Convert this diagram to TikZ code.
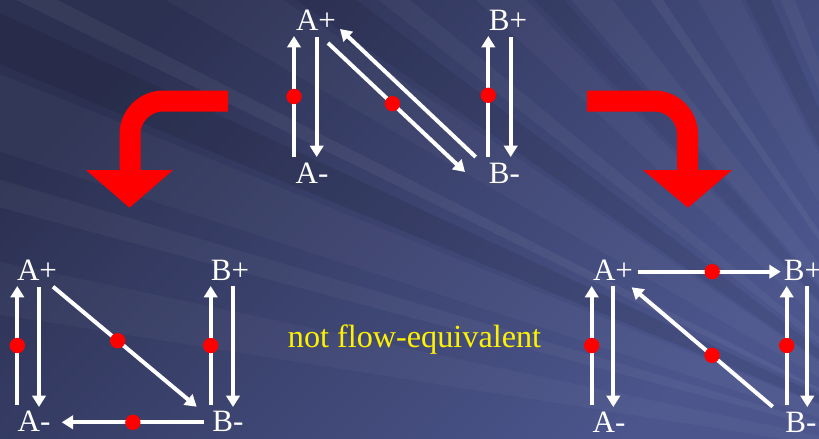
\documentclass[tikz,border=0pt]{standalone}
\usepackage{fontspec}
\setmainfont{Liberation Serif}
\usetikzlibrary{arrows.meta}

\definecolor{bgdark}{HTML}{2C3152}
\definecolor{bglight}{HTML}{4C568D}

\begin{document}
\begin{tikzpicture}[
  x=0.03cm, y=-0.03cm,
  font=\fontsize{26.5}{32}\selectfont,
  >={Triangle[length=0.34cm,width=0.4cm]},
  flow/.style={->, white, line width=0.12cm},
  dot/.style={circle, fill=red, inner sep=0pt, minimum size=0.46cm},
  vertex/.style={white, inner sep=0pt, anchor=base},
  turnarrow/.style={red, line width=0.63cm, rounded corners=1cm},
  streak/.style={white, opacity=#1},
  shadow/.style={black, opacity=#1}
]

% Backdrop with rays.
\clip (0,0) rectangle (819,438);
\shade[top color=bgdark, bottom color=bglight, shading angle=45] (0,0) rectangle (819,438);
\foreach \a/\b/\o in {9/12/0.03, 15/16.5/0.04, 18/22/0.03, 26/27/0.05,
    30/34/0.03, 38/39.5/0.04, 43/46/0.03, 49/52/0.04, 55/56/0.05,
    59/63/0.03, 67/68.5/0.04, 72/77/0.03}
  \fill[streak=\o] (980,470) -- ({980-1500*cos(\a)},{470-1500*sin(\a)})
    -- ({980-1500*cos(\b)},{470-1500*sin(\b)}) -- cycle;
\foreach \a/\b/\o in {22.5/25/0.09, 34.5/37/0.08, 46.5/48.5/0.06, 63.5/66/0.08}
  \fill[shadow=\o] (980,470) -- ({980-1500*cos(\a)},{470-1500*sin(\a)})
    -- ({980-1500*cos(\b)},{470-1500*sin(\b)}) -- cycle;

% Red bent arrows from the top diagram to the two results.
\coordinate (lbar) at (228,101);
\coordinate (lturn) at (130,101);
\coordinate (ldrop) at (130,172);
\draw[turnarrow] (lbar) -- (lturn) -- (ldrop);
\fill[red] (86,170) -- (173,170) -- (129.5,207.7) -- cycle;

\coordinate (rbar) at (587,101);
\coordinate (rturn) at (687.5,101);
\coordinate (rdrop) at (687.5,172);
\draw[turnarrow] (rbar) -- (rturn) -- (rdrop);
\fill[red] (643,170) -- (732,170) -- (688,207.7) -- cycle;

% Top diagram.
\node[vertex] (tap) at (316,30) {A+};
\node[vertex] (tbp) at (508,30) {B+};
\node[vertex] (tam) at (312,183) {A-};
\node[vertex] (tbm) at (504.5,183) {B-};

\coordinate (t1s) at (294,157);   \coordinate (t1e) at (294,36);
\coordinate (t2s) at (316.7,37);  \coordinate (t2e) at (316.7,157);
\coordinate (t3s) at (328,43);    \coordinate (t3e) at (465,172);
\coordinate (t4s) at (475.7,157); \coordinate (t4e) at (340,29);
\coordinate (t5s) at (488.3,157); \coordinate (t5e) at (488.3,36);
\coordinate (t6s) at (510.7,37);  \coordinate (t6e) at (510.7,157);

\draw[flow] (t1s) -- node[dot] (td1) {} (t1e);
\draw[flow] (t2s) -- (t2e);
\draw[flow] (t3s) -- node[dot, pos=0.47] (td3) {} (t3e);
\draw[flow] (t4s) -- (t4e);
\draw[flow] (t5s) -- node[dot, pos=0.51] (td5) {} (t5e);
\draw[flow] (t6s) -- (t6e);

% Bottom left diagram.
\node[vertex] (lap) at (37,280) {A+};
\node[vertex] (lbp) at (230,280) {B+};
\node[vertex] (lam) at (34,431.5) {A-};
\node[vertex] (lbm) at (228,431.5) {B-};

\coordinate (l1s) at (17.3,405);  \coordinate (l1e) at (17.3,286);
\coordinate (l2s) at (39,287);    \coordinate (l2e) at (39,407);
\coordinate (l3s) at (53,286.7);  \coordinate (l3e) at (196.7,406.7);
\coordinate (l4s) at (210.7,405); \coordinate (l4e) at (210.7,286);
\coordinate (l5s) at (233,286);   \coordinate (l5e) at (233,407);
\coordinate (l6s) at (204,422.3); \coordinate (l6e) at (61.7,422.3);

\draw[flow] (l1s) -- node[dot] (ld1) {} (l1e);
\draw[flow] (l2s) -- (l2e);
\draw[flow] (l3s) -- node[dot, pos=0.45] (ld3) {} (l3e);
\draw[flow] (l4s) -- node[dot] (ld4) {} (l4e);
\draw[flow] (l5s) -- (l5e);
\draw[flow] (l6s) -- node[dot] (ld6) {} (l6e);

\node[yellow, anchor=base, font=\fontsize{27.5}{32}\selectfont] (verdict)
  at (414.5,347.5) {not flow-equivalent};

% Bottom right diagram.
\node[vertex] (rap) at (613,280) {A+};
\node[vertex] (rbp) at (803,280) {B+};
\node[vertex] (ram) at (609,432.5) {A-};
\node[vertex] (rbm) at (801,432.5) {B-};

\coordinate (r1s) at (591.7,405); \coordinate (r1e) at (591.7,286);
\coordinate (r2s) at (613.3,286); \coordinate (r2e) at (613.3,407);
\coordinate (r3s) at (772.7,406.7); \coordinate (r3e) at (631.7,287.3);
\coordinate (r4s) at (786.7,405); \coordinate (r4e) at (786.7,286);
\coordinate (r5s) at (807.3,286); \coordinate (r5e) at (807.3,407);
\coordinate (r6s) at (638,271.7); \coordinate (r6e) at (780.7,271.7);

\draw[flow] (r1s) -- node[dot] (rd1) {} (r1e);
\draw[flow] (r2s) -- (r2e);
\draw[flow] (r3s) -- node[dot, pos=0.43] (rd3) {} (r3e);
\draw[flow] (r4s) -- node[dot] (rd4) {} (r4e);
\draw[flow] (r5s) -- (r5e);
\draw[flow] (r6s) -- node[dot, pos=0.52] (rd6) {} (r6e);

\end{tikzpicture}
\end{document}
